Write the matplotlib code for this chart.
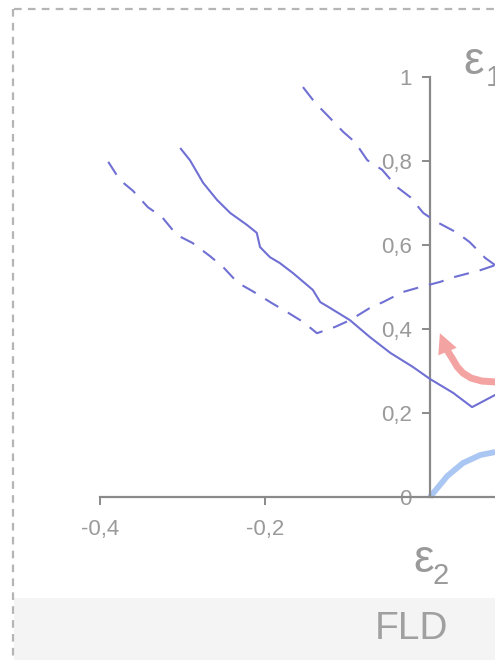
import matplotlib
matplotlib.use("Agg")
import matplotlib.pyplot as plt
from matplotlib.patches import Rectangle
from matplotlib.lines import Line2D

plt.rcParams["font.family"] = ["Liberation Sans", "DejaVu Sans"]
plt.rcParams["lines.scale_dashes"] = False

# Forming limit curve (solid)
flc_e2 = [-0.302, -0.291, -0.275, -0.258, -0.242, -0.222, -0.210, -0.206, -0.194,
          -0.182, -0.166, -0.142, -0.133, -0.121, -0.097, -0.073, -0.048, -0.021,
          0.0, 0.028, 0.051, 0.079]
flc_e1 = [0.829, 0.802, 0.748, 0.707, 0.676, 0.648, 0.629, 0.595, 0.571,
          0.557, 0.533, 0.493, 0.464, 0.450, 0.421, 0.381, 0.343, 0.310,
          0.281, 0.248, 0.214, 0.243]

# Lower dashed curve
low_e2 = [-0.390, -0.376, -0.360, -0.342, -0.325, -0.307, -0.288, -0.267, -0.251,
          -0.233, -0.215, -0.192, -0.173, -0.154, -0.137, -0.115, -0.097, -0.073,
          -0.057, -0.033, -0.015, 0.012, 0.030, 0.061, 0.079]
low_e1 = [0.798, 0.755, 0.729, 0.690, 0.667, 0.624, 0.605, 0.574, 0.548,
          0.510, 0.490, 0.462, 0.440, 0.417, 0.390, 0.405, 0.421, 0.450,
          0.464, 0.488, 0.498, 0.512, 0.524, 0.540, 0.552]

# Upper dashed curve
up_e2 = [-0.154, -0.139, -0.125, -0.105, -0.091, -0.076, -0.058, -0.040, -0.024,
         -0.008, 0.008, 0.033, 0.048, 0.067, 0.079]
up_e1 = [0.976, 0.938, 0.910, 0.869, 0.845, 0.802, 0.779, 0.738, 0.714,
         0.676, 0.655, 0.629, 0.607, 0.569, 0.552]

# Strain path arrows
red_e2 = [0.079, 0.063, 0.050, 0.040, 0.033, 0.027, 0.020, 0.012]
red_e1 = [0.274, 0.276, 0.283, 0.295, 0.310, 0.330, 0.352, 0.390]
blue_e2 = [0.0, 0.021, 0.040, 0.061, 0.079]
blue_e1 = [0.0, 0.050, 0.081, 0.100, 0.107]

y_ticks = [0, 0.2, 0.4, 0.6, 0.8, 1]
y_labels = ["0", "0,2", "0,4", "0,6", "0,8", "1"]
x_ticks = [-0.4, -0.2]
x_labels = ["-0,4", "-0,2"]

W, H = 495, 660
fig = plt.figure(figsize=(W / 100, H / 100), dpi=100)
fig.patch.set_facecolor("white")

# Bottom caption band
fig.add_artist(Rectangle((14 / W, 0), 1, 62 / H, transform=fig.transFigure,
                         facecolor="#f4f4f4", edgecolor="none", zorder=0))
fig.text(412 / W, 1 - 629 / H, "FLD", ha="center", va="center",
         fontsize=28, color="#a0a0a0")

# Dashed outer frame
frame_kw = dict(transform=fig.transFigure, color="#b5b5b5", lw=1.6,
                dashes=(5.5, 4.5))
fig.add_artist(Line2D([14 / W, 1], [1 - 9 / H, 1 - 9 / H], **frame_kw))
fig.add_artist(Line2D([12.5 / W, 12.5 / W], [1 - 9 / H, 0], **frame_kw))

ax = fig.add_axes([0, 0, 1, 1])
ax.set_xlim(-430 / 825, 65 / 825)
ax.set_ylim(-163 / 420, 497 / 420)
ax.patch.set_alpha(0)

line_col = "#7070d4"
ax.plot(flc_e2, flc_e1, color=line_col, lw=1.5, zorder=3)
ax.plot(low_e2, low_e1, color=line_col, lw=1.5, dashes=(11, 8), zorder=3)
ax.plot(up_e2, up_e1, color=line_col, lw=1.5, dashes=(12, 8), zorder=3)

ax.plot(blue_e2, blue_e1, color="#aac6f3", lw=4.2, solid_capstyle="butt", zorder=2)

red_col = "#f4a3a3"
ax.plot(red_e2[:-1], red_e1[:-1], color=red_col, lw=5, solid_capstyle="butt",
        solid_joinstyle="round", zorder=2)
ax.annotate("", xy=(red_e2[-1], red_e1[-1]), xytext=(red_e2[-2], red_e1[-2]),
            arrowprops=dict(arrowstyle="simple,head_width=1.1,head_length=1.1,tail_width=0.4",
                            mutation_scale=13, color=red_col, lw=0,
                            shrinkA=0, shrinkB=0),
            zorder=2)

# Axes crossing at the origin
for side in ("top", "right"):
    ax.spines[side].set_visible(False)
ax.spines["left"].set_position(("data", 0))
ax.spines["bottom"].set_position(("data", 0))
ax.spines["left"].set_bounds(0, 1)
ax.spines["bottom"].set_bounds(-0.4, 65 / 825)
for side in ("left", "bottom"):
    ax.spines[side].set_color("#8a8a8a")
    ax.spines[side].set_linewidth(1.6)

ax.set_yticks(y_ticks)
ax.set_yticklabels(y_labels)
ax.set_xticks(x_ticks)
ax.set_xticklabels(x_labels)
ax.tick_params(axis="y", direction="out", length=6, width=1.4, color="#8a8a8a",
               labelcolor="#9a9a9a", labelsize=16, pad=7)
ax.tick_params(axis="x", direction="out", length=6, width=1.4, color="#8a8a8a",
               labelcolor="#9a9a9a", labelsize=16, pad=10)

# Axis titles
lab_col = "#9a9a9a"
ax.text(413 / 825 - 430 / 825, (497 - 560) / 420, "ε", fontsize=33, color=lab_col,
        ha="left", va="center")
ax.text(433 / 825 - 430 / 825, (497 - 576) / 420, "2", fontsize=21, color=lab_col,
        ha="left", va="center")
ax.text(463 / 825 - 430 / 825, (497 - 62) / 420, "ε", fontsize=33, color=lab_col,
        ha="left", va="center")
ax.text(486 / 825 - 430 / 825, (497 - 78) / 420, "1", fontsize=21, color=lab_col,
        ha="left", va="center")

fig.savefig("out.png", dpi=100)
